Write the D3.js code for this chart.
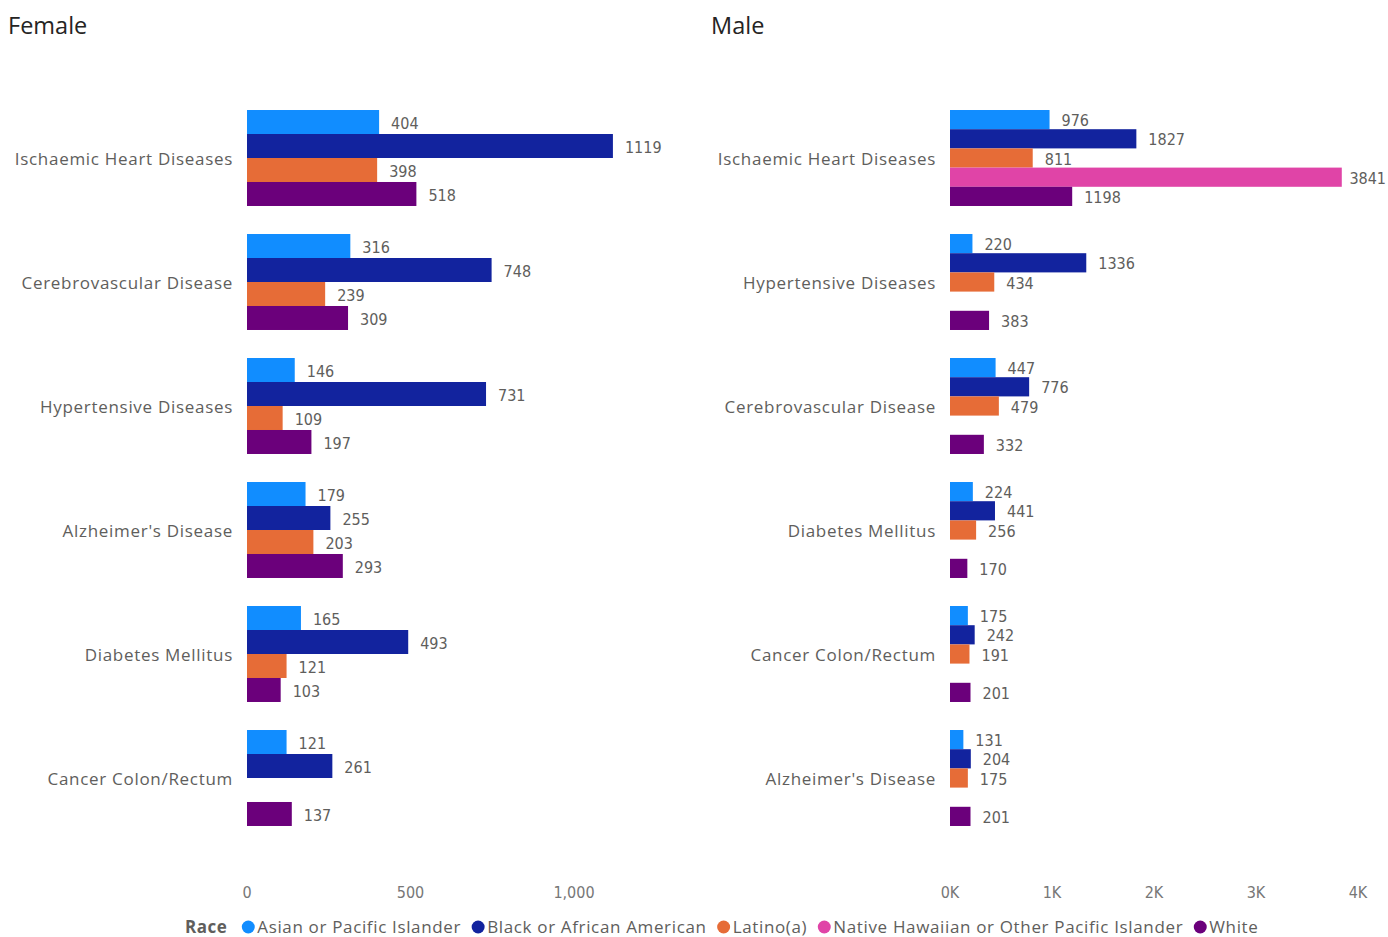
<!DOCTYPE html>
<html><head><meta charset="utf-8">
<script src="https://cdn.jsdelivr.net/npm/d3@7"></script>
<style>
body{margin:0;background:#fff;}
text{font-family:"Open Sans","Segoe UI",sans-serif;}
.dl{font-family:"Liberation Sans Narrow","DejaVu Sans Condensed","Open Sans",sans-serif;}
</style></head><body>
<svg id="c" width="1388" height="937"></svg>
<script>
const races = ["Asian or Pacific Islander","Black or African American","Latino(a)","Native Hawaiian or Other Pacific Islander","White"];
const raceColors = ["#118DFF","#12239E","#E66C37","#E044A7","#6B007B"];

const femaleCategories = ["Ischaemic Heart Diseases","Cerebrovascular Disease","Hypertensive Diseases","Alzheimer's Disease","Diabetes Mellitus","Cancer Colon/Rectum"];
const femaleRaces = ["Asian or Pacific Islander","Black or African American","Latino(a)","White"];
const femaleAsian  = [404,316,146,179,165,121];
const femaleBlack  = [1119,748,731,255,493,261];
const femaleLatino = [398,239,109,203,121,null];
const femaleWhite  = [518,309,197,293,103,137];
const femaleTicks = [0,500,1000];

const maleCategories = ["Ischaemic Heart Diseases","Hypertensive Diseases","Cerebrovascular Disease","Diabetes Mellitus","Cancer Colon/Rectum","Alzheimer's Disease"];
const maleRaces = races;
const maleAsian  = [976,220,447,224,175,131];
const maleBlack  = [1827,1336,776,441,242,204];
const maleLatino = [811,434,479,256,191,175];
const maleNHPI   = [3841,null,null,null,null,null];
const maleWhite  = [1198,383,332,170,201,201];
const maleTicks = [0,1000,2000,3000,4000];

const svg = d3.select("#c");
const color = d3.scaleOrdinal().domain(races).range(raceColors);

function panel(opts){
  const {title, titleX, cats, rs, series, x, ticks, tickFmt, labelX} = opts;
  svg.append("text").attr("x",titleX).attr("y",34).attr("font-size",23.5).attr("fill","#252423").text(title);
  const y = d3.scaleBand().domain(cats).range([96,840]).paddingInner(0.226).paddingOuter(0.113);
  const ySub = d3.scaleBand().domain(rs).range([0,y.bandwidth()]);
  const g = svg.append("g");
  cats.forEach((c,i)=>{
    g.append("text").attr("x",labelX).attr("y",y(c)+y.bandwidth()/2+1).attr("dy","0.35em")
      .attr("text-anchor","end").attr("font-size",17).attr("letter-spacing","0.7px").attr("fill","#605E5C").text(c);
    rs.forEach((r,j)=>{
      const v = series[j][i];
      if(v==null) return;
      const yy = y(c)+ySub(r);
      g.append("rect").attr("x",x(0)).attr("y",yy).attr("width",x(v)-x(0)).attr("height",ySub.bandwidth()).attr("fill",color(r));
      const t = g.append("text").attr("class","dl").attr("x",x(v)+12).attr("y",yy+ySub.bandwidth()/2+1).attr("dy","0.35em")
        .attr("font-size",16).attr("fill","#605E5C").text(v);
      const w = t.node().getComputedTextLength();
      if(x(v)+12+w > 1386) t.attr("x", 1386-w);
    });
  });
  const ax = svg.append("g").attr("transform","translate(0,892)");
  ticks.forEach(t=>{
    ax.append("text").attr("class","dl").attr("x",x(t)).attr("dy","0.35em").attr("text-anchor","middle")
      .attr("font-size",16).attr("fill","#777").text(tickFmt(t));
  });
}

panel({title:"Female", titleX:8, cats:femaleCategories, rs:femaleRaces,
  series:[femaleAsian,femaleBlack,femaleLatino,femaleWhite],
  x:d3.scaleLinear().domain([0,1200]).range([247,247+0.327*1200]),
  ticks:femaleTicks, tickFmt:d3.format(","), labelX:233});

panel({title:"Male", titleX:711, cats:maleCategories, rs:maleRaces,
  series:[maleAsian,maleBlack,maleLatino,maleNHPI,maleWhite],
  x:d3.scaleLinear().domain([0,4000]).range([950,1358]),
  ticks:maleTicks, tickFmt:d=>(d/1000)+"K", labelX:936});

// legend
const lg = svg.append("g").attr("transform","translate(0,927)");
let lx = 185;
const rt = lg.append("text").attr("x",lx).attr("dy","0.35em").attr("font-size",17).attr("font-weight","bold").attr("letter-spacing","0.5px").attr("fill","#605E5C").text("Race");
lx += rt.node().getComputedTextLength() + 15;
races.forEach(r=>{
  lg.append("circle").attr("cx",lx+6).attr("cy",0).attr("r",6.5).attr("fill",color(r));
  const t = lg.append("text").attr("x",lx+15).attr("dy","0.35em").attr("font-size",17).attr("letter-spacing","0.65px").attr("fill","#605E5C").text(r);
  lx += 15 + t.node().getComputedTextLength() + 11;
});
</script></body></html>
